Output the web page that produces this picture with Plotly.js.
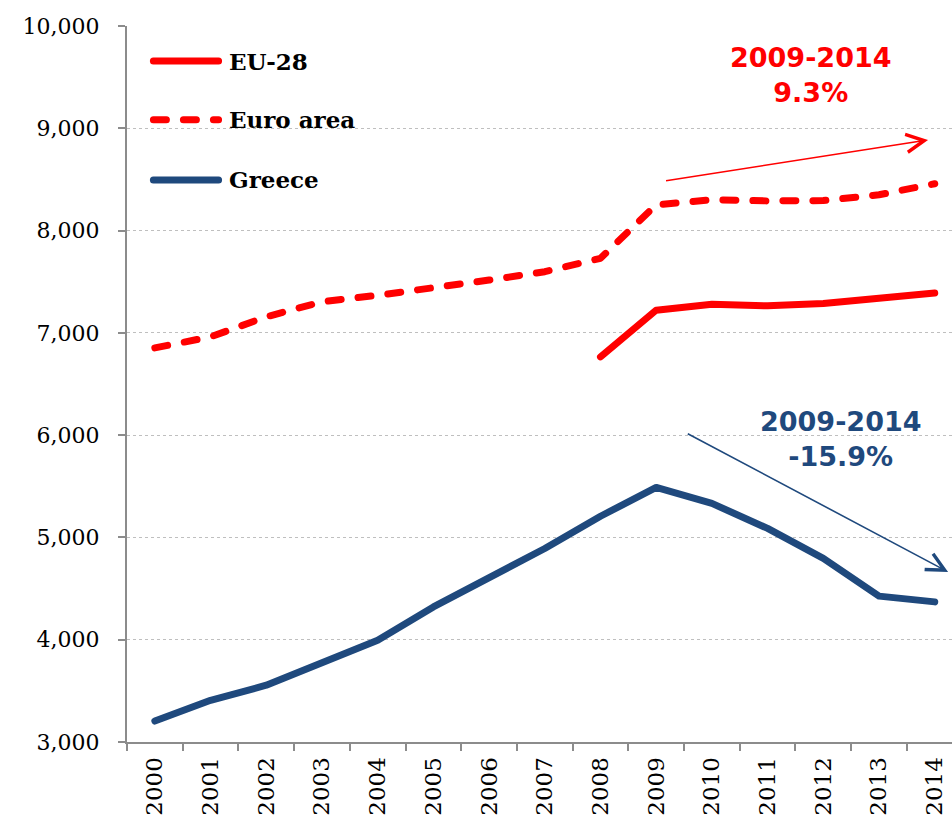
<!DOCTYPE html>
<html>
<head>
<meta charset="utf-8">
<script src="https://cdn.plot.ly/plotly-3.0.1.min.js"></script>
<style>
html,body{margin:0;padding:0;background:#fff;}
#chart{width:952px;height:824px;}
.scatterlayer .js-line{stroke-linecap:round !important;stroke-linejoin:round !important;}
.shapelayer path{stroke-linecap:round !important;}
</style>
</head>
<body>
<div id="chart"></div>
<script>
var years = ['2000','2001','2002','2003','2004','2005','2006','2007','2008','2009','2010','2011','2012','2013','2014'];
var eu28 = [null,null,null,null,null,null,null,null,6765,7222,7280,7264,7287,7336,7390];
var euroArea = [6853,6961,7157,7304,7367,7435,7516,7598,7729,8252,8301,8290,8293,8350,8458];
var greece = [3205,3408,3555,3777,3995,4321,4614,4892,5207,5489,5333,5088,4795,4426,4370];
var seriesNames = ['EU-28','Euro area','Greece'];
var yTicks = [3000,4000,5000,6000,7000,8000,9000,10000];
var yTickText = ['3,000','4,000','5,000','6,000','7,000','8,000','9,000','10,000'];
var redNote = ['2009-2014','9.3%'];
var blueNote = ['2009-2014','-15.9%'];

var RED = '#ff0000', BLUE = '#1f497d';

var traces = [
  {x: years, y: eu28, name: seriesNames[0], mode: 'lines', line: {color: RED, width: 7}, connectgaps: false},
  {x: years, y: euroArea, name: seriesNames[1], mode: 'lines', line: {color: RED, width: 7, dash: '13px,17px'}},
  {x: years, y: greece, name: seriesNames[2], mode: 'lines', line: {color: BLUE, width: 7}}
];

var legY = [0.951, 0.869, 0.785];
var legStyles = [
  {color: RED, width: 7, dash: 'solid'},
  {color: RED, width: 7, dash: '13px,17px'},
  {color: BLUE, width: 7, dash: 'solid'}
];
var shapes = [], annotations = [];
for (var i = 0; i < seriesNames.length; i++) {
  shapes.push({type: 'line', xref: 'paper', yref: 'paper', x0: 0.032, x1: 0.111, y0: legY[i], y1: legY[i], line: legStyles[i]});
  annotations.push({xref: 'paper', yref: 'paper', x: 0.1215, y: legY[i], xanchor: 'left', yanchor: 'middle', showarrow: false,
    text: '<b>' + seriesNames[i] + '</b>', font: {family: 'DejaVu Serif', size: 23, color: '#000'}});
}
annotations.push({xref: 'x', yref: 'y', x: 11.78, y: 9521, showarrow: false, text: '<b>' + redNote.join('<br>') + '</b>',
  font: {family: 'DejaVu Sans', size: 27, color: RED}, align: 'center'});
annotations.push({xref: 'x', yref: 'y', x: 12.32, y: 5963, showarrow: false, text: '<b>' + blueNote.join('<br>') + '</b>',
  font: {family: 'DejaVu Sans', size: 27, color: BLUE}, align: 'center'});
annotations.push({xref: 'x', yref: 'y', axref: 'x', ayref: 'y', x: 13.88, y: 8886, ax: 9.15, ay: 8485, text: '', showarrow: true,
  arrowhead: 5, arrowsize: 2.2, arrowwidth: 1.6, arrowcolor: RED});
annotations.push({xref: 'x', yref: 'y', axref: 'x', ayref: 'y', x: 14.24, y: 4663, ax: 9.54, ay: 6022, text: '', showarrow: true,
  arrowhead: 5, arrowsize: 2.2, arrowwidth: 1.6, arrowcolor: BLUE});

var layout = {
  width: 952, height: 824,
  margin: {l: 127, r: 0, t: 26, b: 82, pad: 0},
  paper_bgcolor: '#fff', plot_bgcolor: '#fff',
  showlegend: false,
  xaxis: {
    type: 'category', range: [-0.5, 14.31], tickangle: -90, tickson: 'boundaries',
    ticks: 'outside', ticklen: 7, tickwidth: 2, tickcolor: '#8c8c8c',
    showline: true, linecolor: '#8c8c8c', linewidth: 2, showgrid: false, zeroline: false,
    tickfont: {family: 'DejaVu Serif', size: 23, color: '#000'}, ticklabelstandoff: 4
  },
  yaxis: {
    range: [3000, 10000], tickvals: yTicks, ticktext: yTickText,
    ticks: 'outside', ticklen: 7, tickwidth: 2, tickcolor: '#8c8c8c',
    showline: true, linecolor: '#8c8c8c', linewidth: 2, zeroline: false,
    showgrid: true, gridcolor: '#bfbfbf', gridwidth: 1, griddash: 'dot',
    tickfont: {family: 'DejaVu Serif', size: 22, color: '#000'}, ticklabelstandoff: 14
  },
  shapes: shapes,
  annotations: annotations
};

Plotly.newPlot('chart', traces, layout, {displayModeBar: false, staticPlot: true});
</script>
</body>
</html>
